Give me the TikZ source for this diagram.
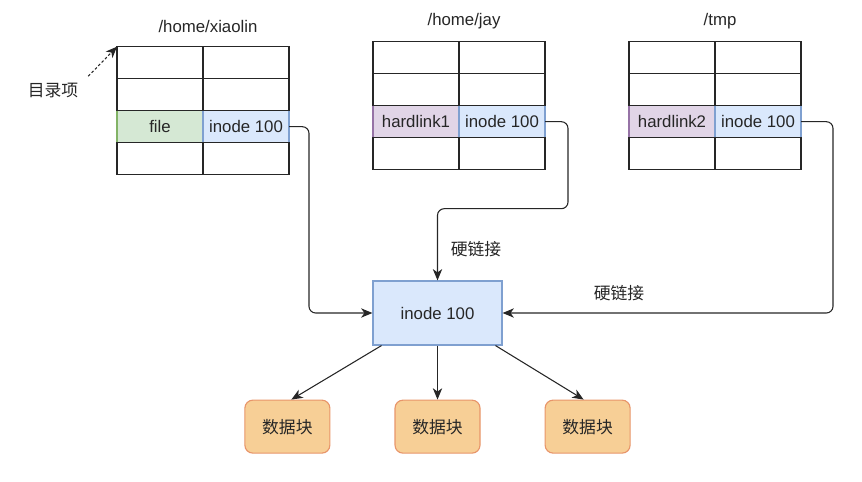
\documentclass[tikz,border=0pt]{standalone}
\usepackage{fontspec}
\setmainfont{Liberation Sans}
\newfontfamily\cjk{Noto Sans CJK SC}
\usepackage{xcolor}
\usepackage{tikz}
\usetikzlibrary{arrows.meta, positioning}
\newcommand{\diagfont}{\fontsize{12.6}{15}\selectfont}
\definecolor{filefill}{HTML}{D5E8D4}
\definecolor{fileline}{HTML}{82B366}
\definecolor{inofill}{HTML}{DAE8FC}
\definecolor{inoline}{HTML}{7FA0D0}
\definecolor{linkfill}{HTML}{E1D5E7}
\definecolor{linkline}{HTML}{9673A6}
\definecolor{blockfill}{HTML}{F7CF96}
\definecolor{blockline}{HTML}{E8956A}
\tikzstyle{cell}     = [rectangle, minimum width=64.5pt, minimum height=24pt, inner sep=0pt,
    outer sep=0pt, draw=black!85, line width=0.85pt, text=black!85, font=\diagfont]
\tikzstyle{filecell} = [cell, fill=filefill, draw=fileline]
\tikzstyle{inocell}  = [cell, fill=inofill, draw=inoline]
\tikzstyle{linkcell} = [cell, fill=linkfill, draw=linkline]
\tikzstyle{inodebox} = [rectangle, minimum width=96.75pt, minimum height=48pt, fill=inofill,
    draw=inoline, line width=0.85pt, text=black!85, font=\diagfont]
\tikzstyle{block}    = [rectangle, rounded corners=6pt, minimum width=63.75pt, minimum height=39.75pt,
    fill=blockfill, draw=blockline, line width=0.85pt, text=black!85, font=\diagfont\cjk]
\tikzstyle{title}    = [text=black!85, font=\diagfont]
\tikzstyle{arrow}    = [line width=0.8pt, black!85, -{Stealth[length=8.5pt, width=7pt, inset=2.5pt]}]

\begin{document}
\begin{tikzpicture}[x=0.75pt, y=-0.75pt]
    \useasboundingbox (0,0) rectangle (862,481);
    % /home/xiaolin
    \node (xtitle) [title] at (208,26)                      {/home/xiaolin};
    \node (xfile)[filecell, anchor=north west] at (117,110.7) {file};
    \node (xino) [inocell, right=0pt of xfile]               {inode 100};
    \node (xb1)  [cell, above=0pt of xfile]                  {};
    \node (xb2)  [cell, above=0pt of xino]                   {};
    \node (xa1)  [cell, above=0pt of xb1]                    {};
    \node (xa2)  [cell, above=0pt of xb2]                    {};
    \node (xd1)  [cell, below=0pt of xfile]                  {};
    \node (xd2)  [cell, below=0pt of xino]                   {};
    % /home/jay
    \node (jtitle) [title] at (464,21)                      {/home/jay};
    \node (jlink)[linkcell, anchor=north west] at (373,105.7) {hardlink1};
    \node (jino) [inocell, right=0pt of jlink]               {inode 100};
    \node (jb1)  [cell, above=0pt of jlink]                  {};
    \node (jb2)  [cell, above=0pt of jino]                   {};
    \node (ja1)  [cell, above=0pt of jb1]                    {};
    \node (ja2)  [cell, above=0pt of jb2]                    {};
    \node (jd1)  [cell, below=0pt of jlink]                  {};
    \node (jd2)  [cell, below=0pt of jino]                   {};
    % /tmp
    \node (ttitle) [title] at (720,21)                      {/tmp};
    \node (tlink)[linkcell, anchor=north west] at (629,105.7) {hardlink2};
    \node (tino) [inocell, right=0pt of tlink]               {inode 100};
    \node (tb1)  [cell, above=0pt of tlink]                  {};
    \node (tb2)  [cell, above=0pt of tino]                   {};
    \node (ta1)  [cell, above=0pt of tb1]                    {};
    \node (ta2)  [cell, above=0pt of tb2]                    {};
    \node (td1)  [cell, below=0pt of tlink]                  {};
    \node (td2)  [cell, below=0pt of tino]                   {};
    % directory entry label
    \node (entry) [title, font=\diagfont\cjk] at (53,91)     {目录项};
    \draw [arrow, dash pattern=on 2pt off 1.6pt] ([xshift=4pt, yshift=2pt]entry.north east) -- (xa1.north west);
    % inode and data blocks
    \node (ino)  [inodebox] at (437.5,313)                   {inode 100};
    \node (blk2) [block, below=40.5pt of ino]                {数据块};
    \node (blk1) [block, left=48pt of blk2]                  {数据块};
    \node (blk3) [block, right=48pt of blk2]                 {数据块};
    \node (hl1)  [title, font=\diagfont\cjk] at (476,249)    {硬链接};
    \node (hl2)  [title, font=\diagfont\cjk] at (619,293)    {硬链接};
    \draw [arrow, rounded corners=5pt] (xino.east) -- ++(20,0) |- (ino.west);
    \draw [arrow, rounded corners=5pt] (jino.east) -| ++(23,87) -| (ino.north);
    \draw [arrow, rounded corners=5pt] (tino.east) -- ++(32,0) |- (ino.east);
    \draw [arrow] ([xshift=-42pt]ino.south) -- ([xshift=3pt]blk1.north);
    \draw [arrow] (ino.south) -- (blk2.north);
    \draw [arrow] ([xshift=43.5pt]ino.south) -- ([xshift=-3pt]blk3.north);
\end{tikzpicture}
\end{document}
